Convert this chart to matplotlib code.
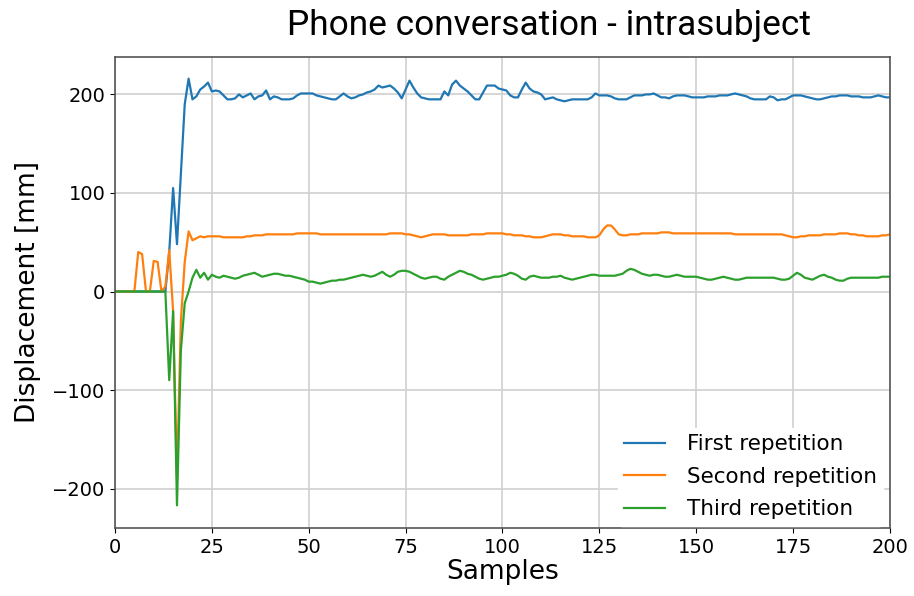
import matplotlib
matplotlib.use("Agg")
import matplotlib.pyplot as plt
import numpy as np

# Displacement per sample for three repetitions of the phone-conversation task
samples = np.arange(0, 201)

first_rep = [
    0, 0, 0, 0, 0, 0, 0, 0, 0, 0, 0, 0, 0, 0, 40, 105, 48, 120, 190, 216,
    195, 198, 205, 208, 212, 203, 204, 203, 199, 195, 195, 196, 200, 197, 199, 201, 195, 198, 199, 204,
    195, 198, 197, 195, 195, 195, 196, 199, 201, 201, 201, 201, 199, 198, 197, 196, 195, 195, 198, 201,
    198, 196, 197, 199, 200, 202, 203, 205, 209, 207, 208, 209, 206, 202, 196, 205, 214, 207, 201, 197,
    196, 195, 195, 195, 195, 203, 199, 210, 214, 209, 206, 203, 199, 195, 195, 202, 209, 209, 209, 206,
    205, 204, 199, 197, 197, 205, 212, 206, 203, 202, 200, 195, 196, 197, 195, 194, 193, 194, 195, 195,
    195, 195, 195, 197, 201, 199, 199, 199, 198, 196, 195, 195, 195, 197, 199, 199, 199, 200, 200, 201,
    199, 197, 197, 196, 198, 199, 199, 199, 198, 197, 197, 197, 197, 198, 198, 198, 199, 199, 199, 200,
    201, 200, 199, 198, 196, 195, 195, 195, 195, 198, 197, 194, 195, 195, 197, 199, 199, 199, 198, 197,
    196, 195, 195, 196, 197, 198, 198, 199, 199, 199, 198, 198, 198, 197, 197, 197, 198, 199, 198, 197,
    197,
]

second_rep = [
    0, 0, 0, 0, 0, 0, 40, 38, 0, 0, 31, 30, 0, 5, 42, -20, -190, -30, 30, 61,
    52, 54, 56, 55, 56, 56, 56, 56, 55, 55, 55, 55, 55, 55, 56, 56, 57, 57, 57, 58,
    58, 58, 58, 58, 58, 58, 58, 59, 59, 59, 59, 59, 59, 58, 58, 58, 58, 58, 58, 58,
    58, 58, 58, 58, 58, 58, 58, 58, 58, 58, 58, 59, 59, 59, 59, 58, 58, 57, 56, 55,
    56, 57, 58, 58, 58, 58, 57, 57, 57, 57, 57, 57, 58, 58, 58, 58, 59, 59, 59, 59,
    59, 58, 58, 57, 57, 57, 56, 56, 55, 55, 55, 56, 57, 58, 58, 58, 57, 57, 56, 56,
    56, 56, 55, 55, 55, 57, 63, 67, 67, 63, 58, 57, 57, 58, 58, 58, 59, 59, 59, 59,
    59, 60, 60, 60, 59, 59, 59, 59, 59, 59, 59, 59, 59, 59, 59, 59, 59, 59, 59, 59,
    58, 58, 58, 58, 58, 58, 58, 58, 58, 58, 58, 58, 58, 57, 56, 55, 55, 56, 56, 57,
    57, 57, 57, 58, 58, 58, 58, 59, 59, 59, 58, 58, 57, 57, 56, 56, 56, 56, 57, 57,
    58,
]

third_rep = [
    0, 0, 0, 0, 0, 0, 0, 0, 0, 0, 0, 0, 0, 0, -90, -20, -217, -60, -12, 0,
    14, 22, 14, 19, 12, 17, 15, 14, 16, 15, 14, 13, 14, 16, 17, 18, 19, 17, 15, 16,
    17, 18, 18, 17, 16, 16, 15, 14, 13, 12, 10, 10, 9, 8, 9, 10, 11, 11, 12, 12,
    13, 14, 15, 16, 17, 16, 15, 16, 18, 20, 17, 15, 17, 20, 21, 21, 20, 18, 16, 14,
    13, 14, 15, 15, 13, 12, 15, 17, 19, 21, 20, 18, 17, 15, 13, 12, 13, 14, 15, 15,
    16, 17, 19, 18, 16, 13, 12, 15, 16, 15, 14, 14, 14, 15, 15, 16, 14, 13, 12, 13,
    14, 15, 16, 17, 17, 16, 16, 16, 16, 16, 17, 18, 21, 23, 22, 20, 18, 17, 16, 17,
    17, 16, 15, 15, 16, 17, 16, 15, 15, 15, 15, 14, 13, 12, 12, 13, 14, 15, 14, 13,
    12, 12, 13, 14, 14, 14, 14, 14, 14, 14, 14, 13, 12, 12, 13, 16, 19, 17, 14, 13,
    12, 14, 16, 17, 15, 14, 12, 11, 11, 13, 14, 14, 14, 14, 14, 14, 14, 14, 15, 15,
    15,
]

series_labels = ["First repetition", "Second repetition", "Third repetition"]
series_colors = ["#1f77b4", "#ff7f0e", "#2ca02c"]
x_ticks = [0, 25, 50, 75, 100, 125, 150, 175, 200]
y_ticks = [-200, -100, 0, 100, 200]

fig = plt.figure(figsize=(9.14, 5.96), dpi=100)
ax = fig.add_axes([0.1258, 0.1141, 0.8479, 0.7903])

for values, label, color in zip([first_rep, second_rep, third_rep], series_labels, series_colors):
    ax.plot(samples, values, color=color, lw=1.6, label=label)

ax.set_xlim(0, 200)
ax.set_ylim(-240, 238)
ax.set_xticks(x_ticks)
ax.set_yticks(y_ticks)
ax.tick_params(labelsize=14)
ax.grid(True, color="#d0d0d0", lw=1.2)
ax.set_axisbelow(True)

for side in ["left", "right", "top", "bottom"]:
    ax.spines[side].set_color("#555555")
    ax.spines[side].set_linewidth(1.2)

ax.set_xlabel("Samples", fontsize=19, labelpad=2)
ax.set_ylabel("Displacement [mm]", fontsize=19, labelpad=8)

leg = ax.legend(loc="lower right", bbox_to_anchor=(0.9915, 0.005), fontsize=15.5,
                frameon=True, framealpha=1.0, edgecolor="white", handlelength=1.9,
                handletextpad=1.0, labelspacing=0.58, borderaxespad=0.0, borderpad=0.3)

fig.text(0.601, 0.957, "Phone conversation - intrasubject", ha="center", va="center",
         fontsize=25.4, family="Roboto")

fig.savefig("out.png", dpi=100)
